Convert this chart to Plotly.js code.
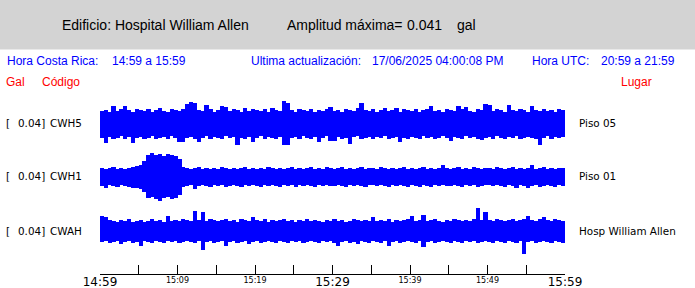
<!DOCTYPE html>
<html><head><meta charset="utf-8">
<script src="https://cdn.plot.ly/plotly-3.0.1.min.js"></script>
<style>html,body{margin:0;padding:0;background:#fff;} #chart{width:695px;height:288px;}</style>
</head><body><div id="chart"></div>
<script>
// ---- data (amplitudes in counts; one value per half-minute) ----
const stations = ['CWH5', 'CWH1', 'CWAH'];
const places = ['Piso 05', 'Piso 01', 'Hosp William Allen'];
const scales = ['0.04]', '0.04]', '0.04]'];
const tickMinutes = [0, 5, 10, 15, 20, 25, 30, 35, 40, 45, 50, 55, 60];
const majorLabels = ['14:59', '', '', '', '', '', '15:29', '', '', '', '', '', '15:59'];
const minorTickMinutes = [10, 20, 40, 50];
const minorLabels = ['15:09', '15:19', '15:39', '15:49'];

const cwh5Up = [13,14,12,18,13,15,18,14,12,15, 14,13,15,12,14,16,13,12,15,14,
  13,15,20,22,21,14,13,19,15,12, 14,18,17,13,15,14,12,16,13,15,
  14,13,15,12,16,14,13,23,21,14, 12,15,14,13,15,12,14,13,15,17,
  13,14,12,15,14,13,16,21,14,13, 15,12,14,16,13,14,16,12,15,14,
  13,15,12,14,15,18,13,14,12,15, 14,13,18,15,17,13,12,15,14,20,
  19,13,15,14,12,19,14,13,15,14, 12,18,14,13,15,13,14,12,15,14];
const cwh5Lo = [14,19,13,15,14,12,15,13,19,14, 13,15,14,12,15,14,13,15,12,14,
  18,18,14,13,15,18,14,12,15,13, 14,15,12,14,13,21,14,15,13,18,
  14,12,15,13,14,15,13,21,21,14, 13,15,12,14,15,13,18,14,12,17,
  17,13,15,14,20,13,12,15,14,13, 15,13,14,12,15,14,13,18,14,15,
  13,14,15,12,14,13,15,14,12,14, 17,13,14,15,12,14,13,15,16,14,
  13,15,12,14,15,13,14,12,15,14, 13,14,15,21,14,12,15,13,14,13];
const cwh1Up = [9,8,9,10,8,9,8,9,10,11, 12,16,22,24,22,23,21,23,22,21,
  18,10,9,8,9,10,8,9,8,9, 8,10,9,8,9,8,9,10,8,9,
  8,9,8,10,9,8,9,8,9,10, 8,9,8,9,10,8,9,8,10,9,
  8,9,10,8,9,8,9,10,8,9, 9,8,10,9,8,9,8,9,10,8,
  9,8,9,10,8,9,8,9,12,9, 8,9,10,8,9,8,10,9,8,9,
  9,8,10,9,8,9,10,8,9,8, 9,12,8,9,10,8,9,8,9,9];
const cwh1Lo = [9,11,8,9,10,8,9,10,11,11, 12,15,21,20,22,24,21,20,22,21,
  18,10,9,8,12,9,8,9,10,8, 9,8,10,9,8,9,10,8,9,8,
  9,10,8,9,8,9,10,8,9,8, 10,8,9,8,9,10,8,9,8,9,
  9,8,9,10,8,9,8,9,10,8, 8,9,8,9,10,8,9,8,9,10,
  8,9,10,8,9,10.5,8,9,8,9, 9,8,9,10,8,9,8,10,9,8,
  8,9,8,9,10,8,9,11.5,8,9, 11,9,8,10,9,8,9,10,8,9];
const cwahUp = [15,14,11,10,9,11,10,12,9,10, 11,9,10,12,10,11,9,15,10,11,
  10,12,11,10,20,11,19,10,12,11, 10,11,12,10,11,9,12,11,10,14,
  11,10,12,9,11,10,11,12,10,11, 9,11,10,12,10,11,10,9,11,10,
  12,10,11,9,10,12,11,10,11,10, 14,10,11,10,12,9,11,10,11,12,
  15,10,11,16,10,11,12,10,9,11, 10,12,11,10,11,10,12,23,11,19,
  11,10,12,11,10,11,12,10,11,12, 15,11,10,12,14,11,10,12,11,10];
const cwahLo = [11,10,12,11,10,13,11,10,12,11, 15,10,11,12,10,11,12,10,11,10,
  12,11,10,11,12,10,19,11,10,12, 11,10,15,11,10,12,11,10,13,11,
  10,12,11,10,11,12,10,11,12,10, 11,10,12,11,10,11,12,10,11,10,
  12,15,11,10,12,11,13,10,11,12, 10,11,12,10,15,11,10,12,11,10,
  11,12,10,16,11,10,12,11,10,11, 12,10,11,12,10,11,10,12,11,10,
  11,12,10,11,12,10,11,12,10,23, 11,10,12,11,10,11,12,10,11,12];

const uppers = [cwh5Up, cwh1Up, cwahUp];
const lowers = [cwh5Lo, cwh1Lo, cwahLo];

// ---- drawing ----
const W = 695, H = 288;
const L = 100, R = 130, T = 95, B = 14;
const PW = W - L - R, PH = H - T - B;
const px = p => (p - L) / PW;
const py = p => (H - B - p) / PH;

const yAxisIds = ['y', 'y2', 'y3'];
const centersPx = [123.5, 176.5, 230.5];
const halfSpan = 27;

const traces = uppers.map((up, s) => {
  const lo = lowers[s];
  return {
    type: 'bar',
    x: up.map((_, i) => 0.25 + 0.5 * i),
    y: up.map((u, i) => u + lo[i]),
    base: lo.map(v => -v),
    width: 0.56,
    marker: {color: '#0000ff', line: {width: 0}},
    xaxis: 'x', yaxis: yAxisIds[s],
    hoverinfo: 'skip', showlegend: false
  };
});
traces.push({type: 'scatter', mode: 'markers', x: [], y: [], xaxis: 'x2', yaxis: 'y', hoverinfo: 'skip', showlegend: false});

const yAxisBase = {range: [-halfSpan, halfSpan], visible: false, fixedrange: true};
function dom(c) { return [py(c + halfSpan), py(c - halfSpan)]; }

const annotations = [];
function ann(text, x, y, size, color, family) {
  annotations.push({text: text, xref: 'paper', yref: 'paper', x: px(x - 1), y: py(y),
    xanchor: 'left', yanchor: 'middle', showarrow: false,
    font: {size: size, color: color, family: family}});
}
const SANS = '"Liberation Sans", Arial, sans-serif';
const DJ = '"DejaVu Sans", sans-serif';

ann('Edificio: Hospital William Allen', 61, 24.5, 14, '#000', SANS);
ann('Amplitud máxima=', 286, 24.5, 14, '#000', SANS);
ann('0.041', 406, 24.5, 14, '#000', SANS);
ann('gal', 456, 24.5, 14, '#000', SANS);

const BLUE = '#0000ff', RED = '#ff0000';
ann('Hora Costa Rica:', 5.7, 61.5, 12, BLUE, SANS);
ann('14:59 a 15:59', 111, 61.5, 12, BLUE, SANS);
ann('Ultima actualización:', 250, 61.5, 12, BLUE, SANS);
ann('17/06/2025 04:00:08 PM', 371, 61.5, 12, BLUE, SANS);
ann('Hora UTC:', 530.7, 61.5, 12, BLUE, SANS);
ann('20:59 a 21:59', 600, 61.5, 12, BLUE, SANS);
ann('Gal', 5, 81.5, 12, RED, SANS);
ann('Código', 40.7, 81.5, 12, RED, SANS);
ann('Lugar', 620, 81.5, 12, RED, SANS);

stations.forEach((st, s) => {
  const c = [122.5, 176.3, 230.5][s];
  ann('[', 4.7, c, 10.4, '#000', DJ);
  ann(scales[s], 17, c, 10.4, '#000', DJ);
  ann(st, 49, c, 10.4, '#000', DJ);
  ann(places[s], 578, c, 10.4, '#000', DJ);
});

const layout = {
  width: W, height: H,
  margin: {l: L, r: R, t: T, b: B, pad: 0},
  paper_bgcolor: '#ffffff', plot_bgcolor: 'rgba(0,0,0,0)',
  showlegend: false, barmode: 'overlay', bargap: 0,
  xaxis: {range: [0, 60], anchor: 'free', position: 0, showgrid: false, zeroline: false,
    showline: true, linecolor: '#000', linewidth: 1,
    ticks: 'inside', ticklen: 9, tickwidth: 1, tickcolor: '#000',
    tickmode: 'array', tickvals: tickMinutes, ticktext: majorLabels, ticklabelstandoff: -3,
    tickfont: {family: DJ, size: 12, color: '#000'}, fixedrange: true},
  xaxis2: {range: [0, 60], overlaying: 'x', anchor: 'free', position: 0, showgrid: false, zeroline: false,
    showline: false, ticks: '', tickmode: 'array', tickvals: minorTickMinutes, ticktext: minorLabels,
    tickfont: {family: DJ, size: 8, color: '#000'}, fixedrange: true},
  yaxis: Object.assign({domain: dom(centersPx[0])}, yAxisBase),
  yaxis2: Object.assign({domain: dom(centersPx[1])}, yAxisBase),
  yaxis3: Object.assign({domain: dom(centersPx[2])}, yAxisBase),
  shapes: [{type: 'rect', xref: 'paper', yref: 'paper', x0: px(0), x1: px(W), y0: py(49.5), y1: py(0),
    fillcolor: '#d3d3d3', line: {width: 0}, layer: 'below'}],
  annotations: annotations
};

Plotly.newPlot('chart', traces, layout, {staticPlot: true, displayModeBar: false});
</script></body></html>
